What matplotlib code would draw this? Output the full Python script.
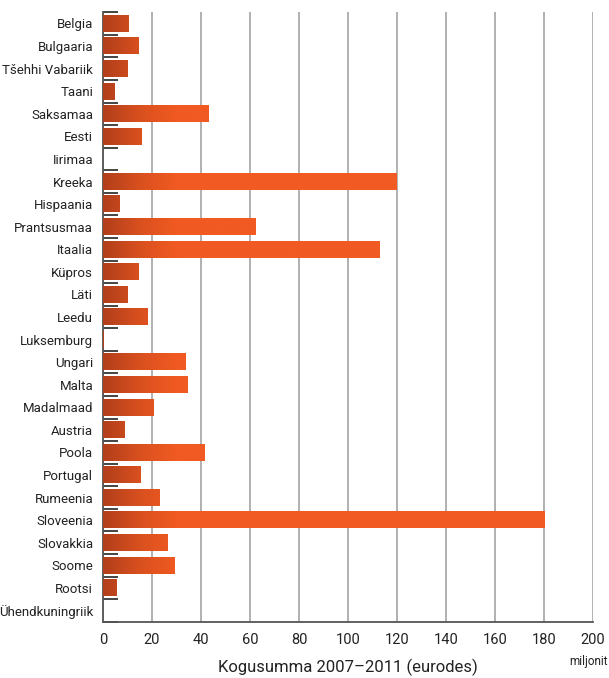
import matplotlib.pyplot as plt
import numpy as np
from matplotlib.colors import LinearSegmentedColormap

countries = ["Belgia", "Bulgaaria", "Tšehhi Vabariik", "Taani", "Saksamaa", "Eesti",
             "Iirimaa", "Kreeka", "Hispaania", "Prantsusmaa", "Itaalia", "Küpros",
             "Läti", "Leedu", "Luksemburg", "Ungari", "Malta", "Madalmaad", "Austria",
             "Poola", "Portugal", "Rumeenia", "Sloveenia", "Slovakkia", "Soome",
             "Rootsi", "Ühendkuningriik"]
values = [10.2, 14.3, 9.8, 4.5, 42.9, 15.9,
          0.0, 119.6, 6.9, 62.4, 113.0, 14.3,
          9.8, 18.2, 0.4, 33.7, 34.5, 20.4, 8.6,
          41.6, 15.1, 22.9, 180.0, 26.5, 29.0,
          5.7, 0.0]
xticks = [0, 20, 40, 60, 80, 100, 120, 140, 160, 180, 200]

plt.rcParams['font.family'] = ['Roboto', 'DejaVu Sans']

fig = plt.figure(figsize=(6.09, 6.78), dpi=100)
ax = fig.add_axes([0.169, 0.083, 0.805, 0.899])

cmap = LinearSegmentedColormap.from_list("bar", ["#b23f1b", "#d9501f", "#f15a22"])
grad_end = 30.0
n = len(countries)
y_pos = np.arange(n)
h = 0.74

for y, v in zip(y_pos, values):
    if v <= 0:
        continue
    # colour depends on the absolute x position, so every bar starts dark
    xs = np.linspace(0, v, 300)
    c = np.clip(xs / grad_end, 0, 1).reshape(1, -1)
    ax.imshow(c, cmap=cmap, vmin=0, vmax=1, aspect='auto',
              extent=(0, v, y + h / 2, y - h / 2), zorder=3, interpolation='bilinear')

ax.set_xlim(0, 200)
ax.set_ylim(n - 0.5, -0.5)
ax.set_xticks(xticks)
ax.set_xticklabels([str(t) for t in xticks], fontsize=10.5, color='#222222')
ax.set_yticks(y_pos)
ax.set_yticklabels(countries, fontsize=9.5, color='#222222')
ax.set_yticks(np.arange(n + 1) - 0.5, minor=True)
ax.tick_params(axis='y', which='major', length=0, pad=7)
ax.tick_params(axis='y', which='minor', direction='in', length=11, width=1.4, color='#444444')
ax.tick_params(axis='x', length=0, pad=8)

ax.grid(axis='x', color='#aaaaaa', linewidth=1.3, zorder=0)
ax.set_axisbelow(True)
for s in ['top', 'right']:
    ax.spines[s].set_visible(False)
ax.spines['left'].set_color('#555555')
ax.spines['bottom'].set_color('#555555')
ax.spines['left'].set_linewidth(1.3)
ax.spines['bottom'].set_linewidth(1.3)

fig.text(0.572, 0.003, "Kogusumma 2007–2011 (eurodes)", ha='center', va='bottom',
         fontsize=12, color='#222222')
fig.text(0.998, 0.024, "miljonit", ha='right', va='center', fontsize=8.5, color='#222222')

fig.savefig("out.png", dpi=100)
